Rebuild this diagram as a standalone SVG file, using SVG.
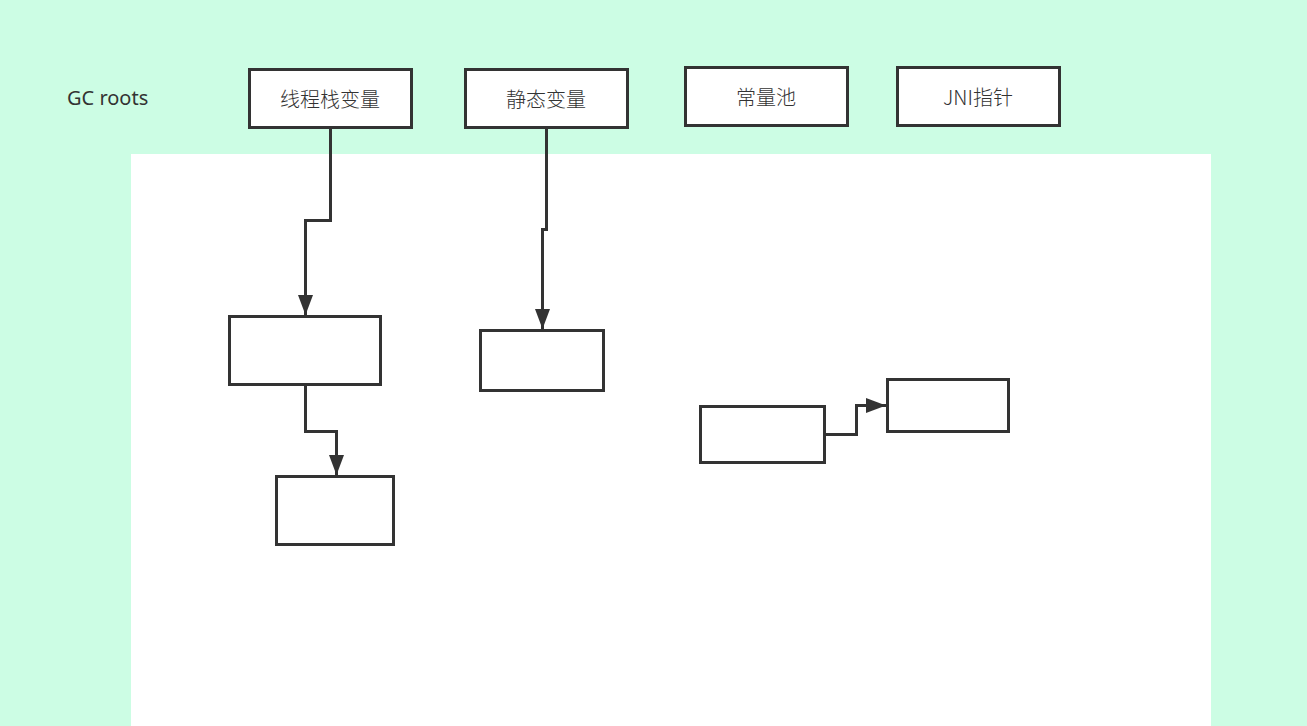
<svg xmlns="http://www.w3.org/2000/svg" width="1307" height="726" viewBox="0 0 1307 726">
<style>
.box{fill:#fff;stroke:#333;stroke-width:3}
.lbl{font-family:"Noto Sans CJK SC","Noto Sans",sans-serif;font-size:20px;font-weight:300;fill:#333;text-anchor:middle}
.conn{fill:none;stroke:#333;stroke-width:3}
</style>
<defs>
<marker id="arr" markerUnits="userSpaceOnUse" markerWidth="22" markerHeight="18" refX="20" refY="9" orient="auto">
<path d="M0,1.5 L20,9 L0,16.5 Z" fill="#333"/>
</marker>
</defs>
<rect x="0" y="0" width="1307" height="726" fill="#ccfde4"/>
<rect x="131" y="154" width="1080" height="572" fill="#fff"/>
<text x="67" y="105" font-family="'Noto Sans','Open Sans',sans-serif" font-size="20" fill="#333">GC roots</text>
<g id="root1"><rect class="box" x="249.5" y="69.5" width="162" height="58"/><text class="lbl" x="330" y="107">线程栈变量</text></g>
<g id="root2"><rect class="box" x="465.5" y="69.5" width="162" height="58"/><text class="lbl" x="546" y="107">静态变量</text></g>
<g id="root3"><rect class="box" x="685.5" y="67.5" width="162" height="58"/><text class="lbl" x="766" y="105">常量池</text></g>
<g id="root4"><rect class="box" x="897.5" y="67.5" width="162" height="58"/><text class="lbl" x="978" y="105">JNI指针</text></g>
<g id="objA"><rect class="box" x="229.5" y="316.5" width="151" height="68"/></g>
<g id="objB"><rect class="box" x="276.5" y="476.5" width="117" height="68"/></g>
<g id="objC"><rect class="box" x="480.5" y="330.5" width="123" height="60"/></g>
<g id="objD"><rect class="box" x="700.5" y="406.5" width="124" height="56"/></g>
<g id="objE"><rect class="box" x="887.5" y="379.5" width="121" height="52"/></g>
<g id="connectors">
<path class="conn" d="M330.5,128 V220.5 H305.5 V315" marker-end="url(#arr)"/>
<path class="conn" d="M546.5,128 V229.5 H542.5 V329" marker-end="url(#arr)"/>
<path class="conn" d="M305.5,385 V431.5 H336.5 V475" marker-end="url(#arr)"/>
<path class="conn" d="M825,434.5 H856.5 V405.5 H886" marker-end="url(#arr)"/>
</g>
</svg>
